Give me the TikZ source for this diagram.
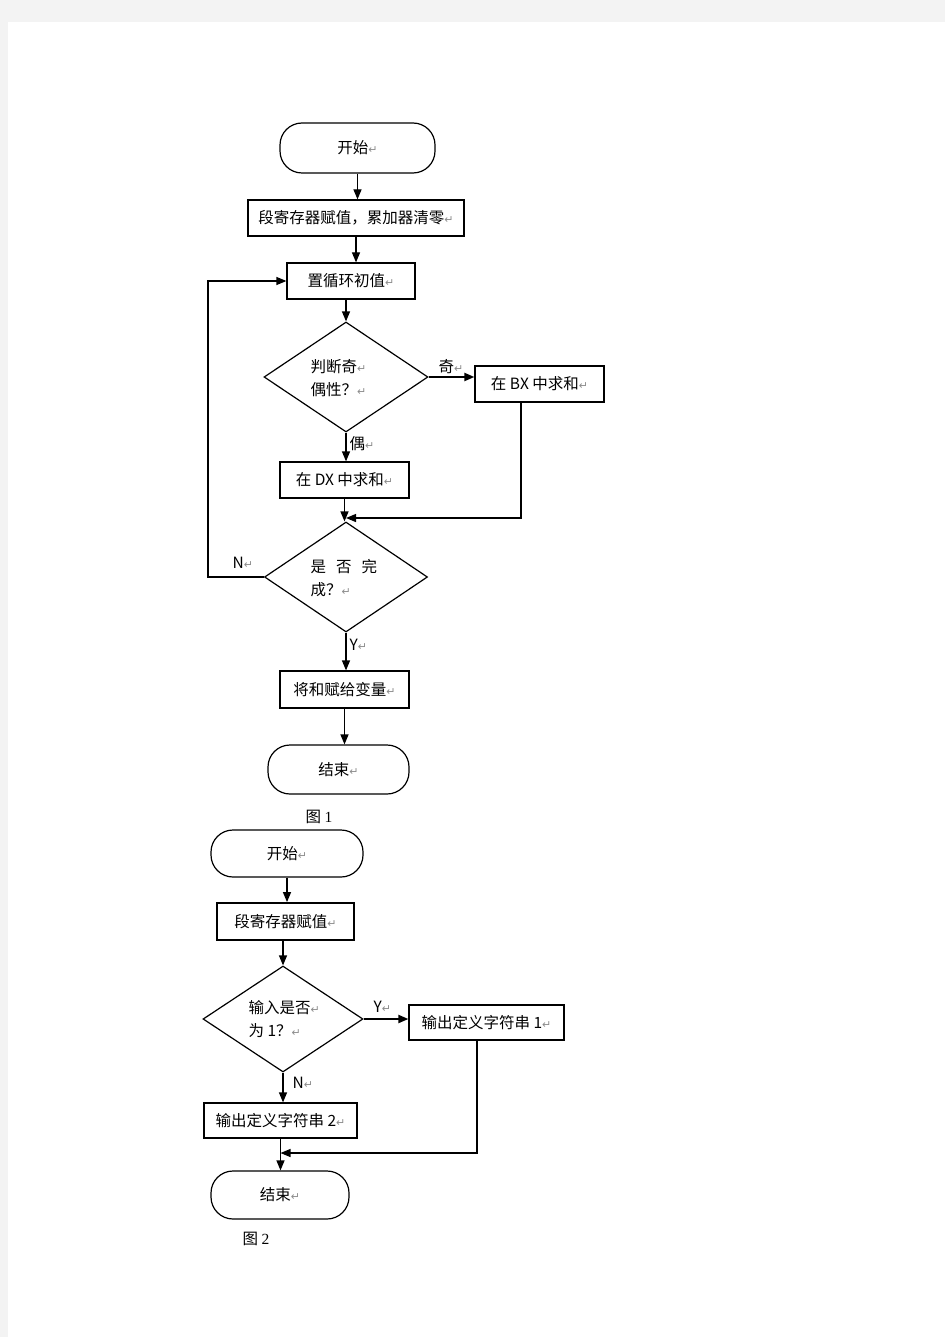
\documentclass[tikz,border=0pt]{standalone}
\usepackage{fontspec}
\setmainfont{Noto Sans CJK SC}
\newfontfamily\retfont{DejaVu Sans}
\newfontfamily\capfont{Liberation Serif}
\usetikzlibrary{arrows.meta}
\usetikzlibrary{shapes.geometric}
\usetikzlibrary{calc}
\definecolor{pagegray}{HTML}{F3F3F3}
\newcommand{\retmark}{{\retfont\fontsize{11}{11}\selectfont\color{gray!90}↵}}
\tikzset{
	term/.style={draw,rectangle,rounded corners=22pt,inner sep=0pt},
	proc/.style={draw,rectangle,inner sep=0pt},
	decide/.style={draw,diamond,inner sep=0pt},
	lbl/.style={anchor=west,inner sep=0pt}
}

\begin{document}
\begin{tikzpicture}[x=1pt,y=-1pt,line width=1.2pt,font=\fontsize{15.5}{23}\selectfont,>={Triangle[length=10pt,width=8pt]}]
	\useasboundingbox (0,0) rectangle (945,1337);
	\fill[pagegray] (0,0) rectangle (945,1337);
	\fill[white] (8,22) rectangle (945,1337);
	\draw (357.5,148) node (s1) [term,minimum width=155pt,minimum height=50pt] {开始\retmark};
	\draw (356,218) node (b1) [proc,minimum width=216pt,minimum height=36pt] {段寄存器赋值，累加器清零\retmark};
	\draw (351,281) node (b2) [proc,minimum width=128pt,minimum height=36pt] {置循环初值\retmark};
	\draw (346,377) node (d1) [decide,minimum width=164pt,minimum height=110pt] {};
	\draw (310,378.5) node (t1) [lbl,align=left] {判断奇\retmark\\偶性？\retmark};
	\draw (539.5,384) node (bx) [proc,minimum width=129pt,minimum height=36pt] {在 BX 中求和\retmark};
	\draw (344.5,480) node (dx) [proc,minimum width=129pt,minimum height=36pt] {在 DX 中求和\retmark};
	\draw (346,577) node (d2) [decide,minimum width=163pt,minimum height=110pt] {};
	\draw (310,578) node (t2) [lbl,align=left] {是\hspace{10pt}否\hspace{10pt}完\\成？\retmark};
	\draw (344.5,689.5) node (b3) [proc,minimum width=129pt,minimum height=37pt] {将和赋给变量\retmark};
	\draw (338.5,769.5) node (e1) [term,minimum width=141pt,minimum height=49pt] {结束\retmark};
	\draw (319,817) node (cap1) {图 {\capfont 1}};
	\draw (438,367) node (odd) [lbl] {奇\retmark};
	\draw (349,444) node (even) [lbl] {偶\retmark};
	\draw (232,563) node (no1) [lbl] {N\retmark};
	\draw (349,645) node (yes1) [lbl] {Y\retmark};
	\coordinate (bxo) at ([xshift=-18.5pt]bx.south);
	\coordinate (join1) at (346,518);
	\coordinate (back) at (208,577);
	\draw[->] (s1.south) -- (s1.south |- b1.north);
	\draw[->] (b1.south) -- (b1.south |- b2.north);
	\draw[->] (d1.north |- b2.south) -- (d1.north);
	\draw[->,line width=2pt] (d1.east) -- (d1.east -| bx.west);
	\draw[->] (d1.south) -- (d1.south |- dx.north);
	\draw[->] (dx.south) -- (dx.south |- d2.north);
	\draw[->] (bxo) |- (join1);
	\draw[->] (d2.west) -- (back) |- (b2.west);
	\draw[->] (d2.south) -- (d2.south |- b3.north);
	\draw[->] (b3.south) -- (b3.south |- e1.north);
	\draw (287,853.5) node (s2) [term,minimum width=152pt,minimum height=47pt] {开始\retmark};
	\draw (285.5,921.5) node (c1) [proc,minimum width=137pt,minimum height=37pt,line width=1.8pt] {段寄存器赋值\retmark};
	\draw (283,1019) node (d3) [decide,minimum width=160pt,minimum height=106pt] {};
	\draw (248,1019.5) node (t3) [lbl,align=left] {输入是否\retmark\\为 1？\retmark};
	\draw (486.5,1022.5) node (o1) [proc,minimum width=155pt,minimum height=35pt] {输出定义字符串 1\retmark};
	\draw (280.5,1120.5) node (o2) [proc,minimum width=153pt,minimum height=35pt] {输出定义字符串 2\retmark};
	\draw (280,1195) node (e2) [term,minimum width=138pt,minimum height=48pt] {结束\retmark};
	\draw (256,1239) node (cap2) {图 {\capfont 2}};
	\draw (373,1007) node (yes2) [lbl] {Y\retmark};
	\draw (292,1083) node (no2) [lbl] {N\retmark};
	\coordinate (o1o) at ([xshift=-9.5pt]o1.south);
	\coordinate (join2) at (280.5,1153);
	\draw[->] (s2.south) -- (s2.south |- c1.north);
	\draw[->] (d3.north |- c1.south) -- (d3.north);
	\draw[->,line width=2pt] (d3.east) -- (d3.east -| o1.west);
	\draw[->] (d3.south) -- (d3.south |- o2.north);
	\draw[->] (o1o) |- (join2);
	\draw[->] (o2.south) -- (o2.south |- e2.north);
\end{tikzpicture}
\end{document}
